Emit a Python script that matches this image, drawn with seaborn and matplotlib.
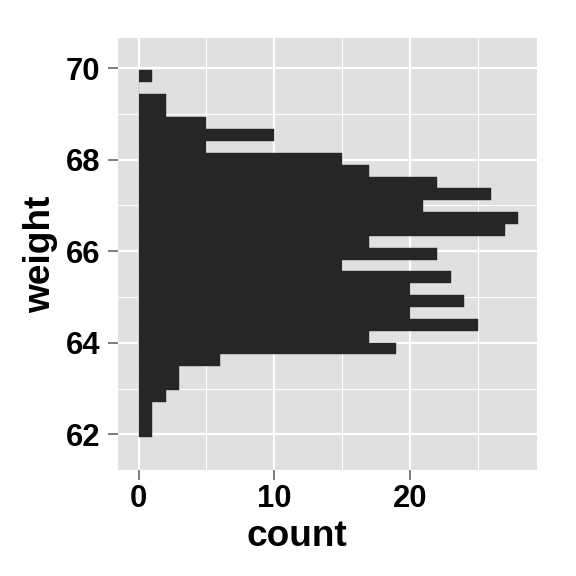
import numpy as np
import pandas as pd
import matplotlib
matplotlib.use("Agg")
import matplotlib.pyplot as plt
import seaborn as sns

# Histogram bins (weight) and counts, bottom to top
bin_low = 61.93
bin_high = 69.96
counts = [1, 1, 1, 2, 3, 3, 6, 19, 17, 25, 20, 24, 20, 23, 15, 22,
          17, 27, 28, 21, 26, 22, 17, 15, 5, 10, 5, 2, 2, 0, 1]
x_ticks = [0, 10, 20]
y_ticks = [62, 64, 66, 68, 70]
x_label = "count"
y_label = "weight"

n_bins = len(counts)
edges = np.linspace(bin_low, bin_high, n_bins + 1)
centers = (edges[:-1] + edges[1:]) / 2
df = pd.DataFrame({"weight": centers, "n": counts})

sns.set_theme(style="darkgrid", rc={
    "axes.facecolor": "#E0E0E0",
    "grid.color": "white",
    "axes.edgecolor": "#E0E0E0",
})
plt.rcParams["font.family"] = ["Liberation Sans", "DejaVu Sans"]
plt.rcParams["font.weight"] = "bold"

fig = plt.figure(figsize=(8, 8), dpi=72)
ax = fig.add_axes([118.3 / 576, 1 - 470 / 576, (537.3 - 118.3) / 576, (470 - 38.3) / 576])

sns.histplot(data=df, y="weight", weights="n", bins=n_bins,
             binrange=(bin_low, bin_high), ax=ax,
             color="#262626", alpha=1, edgecolor="#262626", linewidth=0.4)

ax.set_xlim(-1.5, 29.4)
ax.set_ylim(61.22, 70.65)
ax.set_xticks(x_ticks)
ax.set_yticks(y_ticks)
ax.set_xticks([5, 15, 25], minor=True)
ax.set_yticks([63, 65, 67, 69], minor=True)
ax.grid(which="major", color="white", linewidth=2.2)
ax.grid(which="minor", color="white", linewidth=1.1)
ax.set_axisbelow(True)
for s in ax.spines.values():
    s.set_visible(False)

ax.tick_params(axis="both", which="major", bottom=True, left=True,
               length=10, width=2, color="#7F7F7F",
               labelsize=31, labelcolor="black")
ax.tick_params(axis="x", which="major", pad=4)
ax.tick_params(axis="y", which="major", pad=8)
ax.tick_params(axis="both", which="minor", length=0)
for lab in ax.get_xticklabels() + ax.get_yticklabels():
    lab.set_fontweight("bold")

ax.set_xlabel(x_label, fontsize=37, fontweight="bold", color="black")
ax.set_ylabel(y_label, fontsize=37, fontweight="bold", color="black")
ax.xaxis.set_label_coords(0.426, -0.113)
ax.yaxis.set_label_coords(-0.144, 0.5)

fig.savefig("out.png", dpi=72, facecolor="white")
